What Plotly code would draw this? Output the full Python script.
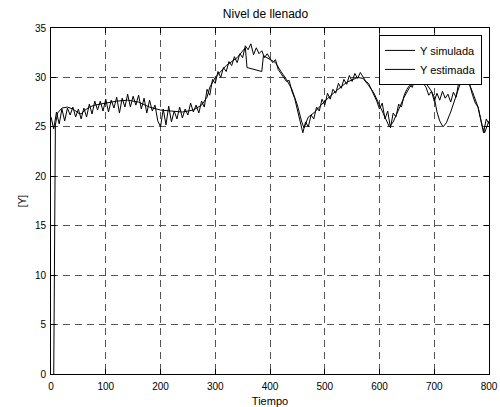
import plotly.graph_objects as go

# Y simulada (noisy), sampled every 5 time units
t_sim = list(range(0, 805, 5))
y_sim = [26.0, 24.8, 26.5, 25.3, 26.8, 25.6, 26.9, 26.2, 27.0, 26.0,
         26.8, 25.8, 26.9, 26.0, 27.3, 26.3, 27.6, 26.7, 27.6, 26.6,
         27.8, 26.5, 27.7, 26.9, 28.0, 26.4, 27.9, 27.0, 28.3, 27.0,
         28.1, 27.2, 28.2, 26.8, 27.9, 26.4, 27.7, 26.6, 27.2, 25.6,
         25.0, 26.8, 25.2, 27.1, 25.5, 26.6, 25.8, 27.0, 25.9, 26.8,
         26.2, 27.4, 26.5, 27.2, 26.4, 27.6, 27.0, 28.8, 28.2, 29.8,
         29.4, 30.6, 30.0, 31.0, 30.6, 31.6, 31.2, 32.1, 31.5, 32.4,
         32.0, 33.2, 32.8, 33.4, 32.3, 33.0, 32.4, 32.7, 32.0, 32.4,
         31.9, 31.5, 31.8, 30.8, 30.4, 30.0, 29.6, 29.7, 28.6, 27.9,
         26.8, 25.6, 24.4, 25.5, 25.0, 26.2, 25.8, 27.0, 26.6, 27.8,
         27.2, 28.4, 27.8, 28.8, 28.4, 29.4, 28.9, 29.8, 29.3, 30.2,
         29.6, 30.4, 29.9, 30.5, 30.0, 29.6, 29.4, 28.8, 28.3, 27.6,
         26.8, 27.4, 25.8, 26.6, 24.9, 26.4, 26.0, 27.3, 27.0, 28.2,
         28.8, 29.2, 29.0, 29.9, 29.6, 30.4, 29.4, 29.0, 28.2, 28.6,
         27.6, 28.4, 27.7, 28.6, 27.9, 28.3, 27.5, 28.5, 28.0, 29.6,
         30.5, 30.1, 29.5, 29.2, 28.2, 27.4, 27.0, 25.6, 24.4, 25.8,
         25.3]

# Y estimada (smooth estimate)
t_est = [5, 8, 12, 20, 30, 40, 50, 55, 60, 70, 80, 100, 120, 140, 160, 180,
         200, 220, 240, 260, 275, 285, 290, 300, 320, 340, 350, 355, 358,
         370, 385, 388, 395, 410, 420, 430, 440, 450, 458, 462, 470, 480,
         490, 500, 520, 540, 560, 570, 580, 590, 600, 610, 618, 625, 635,
         645, 655, 665, 675, 685, 695, 700, 705, 710, 716, 722, 730, 740,
         750, 755, 762, 770, 780, 788, 792, 800]
y_est = [0.0, 25.2, 26.4, 26.9, 27.0, 26.8, 26.4, 26.3, 26.6, 27.0, 27.2,
         27.4, 27.6, 27.7, 27.5, 27.0, 26.7, 26.6, 26.5, 26.7, 27.2, 28.0,
         29.0, 30.0, 31.2, 32.0, 32.6, 33.0, 31.0, 30.8, 30.6, 32.2, 32.0,
         31.5, 30.6, 29.8, 28.8, 27.2, 25.5, 24.9, 26.0, 26.4, 27.0, 27.6,
         28.6, 29.5, 30.0, 29.9, 29.2, 28.4, 27.2, 26.0, 25.0, 25.5, 26.8,
         28.0, 29.0, 29.6, 29.8, 29.4, 28.6, 28.0, 26.5, 25.6, 25.0, 25.4,
         26.5, 28.2, 29.8, 30.0, 29.6, 28.5, 27.0, 25.0, 24.4, 25.6]

x_ticks = [0, 100, 200, 300, 400, 500, 600, 700, 800]
y_ticks = [0, 5, 10, 15, 20, 25, 30, 35]

FONT = "Liberation Sans, Arial, sans-serif"

fig = go.Figure()
fig.add_trace(go.Scatter(x=t_sim, y=y_sim, mode="lines", name="Y simulada",
                         line=dict(color="black", width=1)))
fig.add_trace(go.Scatter(x=t_est, y=y_est, mode="lines", name="Y estimada",
                         line=dict(color="black", width=1)))

axis_common = dict(
    showline=True, linecolor="black", linewidth=1, mirror="ticks",
    ticks="inside", ticklen=5, tickcolor="black", automargin=False,
    showgrid=True, gridcolor="#555555", gridwidth=1, griddash="7px,5px",
    zeroline=False, tickfont=dict(family=FONT, size=10, color="black"),
)

fig.update_layout(
    width=500, height=407,
    margin=dict(l=51, r=11, t=28, b=33),
    paper_bgcolor="white", plot_bgcolor="white",
    title=dict(text="Nivel de llenado", x=0.531, xanchor="center", y=0.966,
               yanchor="middle", font=dict(family=FONT, size=12, color="black")),
    xaxis=dict(range=[0, 800], tickvals=x_ticks, ticklabelstandoff=3,
               title=dict(text="Tiempo", standoff=7,
                          font=dict(family=FONT, size=11, color="black")),
               **axis_common),
    yaxis=dict(range=[0, 35], tickvals=y_ticks, ticklabelstandoff=2,
               title=dict(text="[Y]", standoff=6,
                          font=dict(family=FONT, size=10, color="black")),
               **axis_common),
    legend=dict(x=0.984, y=0.98, xanchor="right", yanchor="top",
                bgcolor="white", bordercolor="black", borderwidth=1,
                font=dict(family=FONT, size=11, color="black"),
                tracegroupgap=0, itemwidth=30),
    showlegend=True,
)

fig.write_html("out.html")
